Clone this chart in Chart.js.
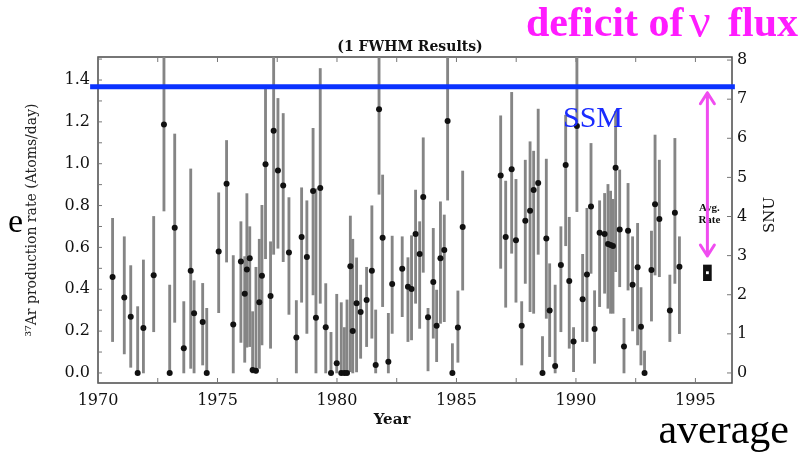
<!DOCTYPE html>
<html>
<head>
<meta charset="utf-8">
<script src="https://cdn.jsdelivr.net/npm/chart.js@4/dist/chart.umd.min.js"></script>
<style>
  html, body { margin: 0; padding: 0; background: #fff; }
  #wrap { width: 800px; height: 457px; }
</style>
</head>
<body>
<div id="wrap"><canvas id="chlorine" width="800" height="457"></canvas></div>
<script>
// run dates (year) and 37Ar production rates (atoms/day) with their 1 FWHM ranges
let years = [
    1970.61, 1971.10, 1971.37, 1971.66, 1971.90, 1972.33, 1972.76, 1973.00, 1973.21, 1973.59,
    1973.88, 1974.02, 1974.38, 1974.55, 1975.05, 1975.38, 1975.66, 1975.98, 1976.14, 1976.23,
    1976.35, 1976.47, 1976.61, 1976.75, 1976.86, 1977.01, 1977.22, 1977.35, 1977.53, 1977.75,
    1977.99, 1978.30, 1978.52, 1978.74, 1979.00, 1979.12, 1979.30, 1979.53, 1979.75, 1979.99,
    1980.18, 1980.31, 1980.42, 1980.56, 1980.66, 1980.82, 1980.99, 1981.24, 1981.46, 1981.62,
    1981.76, 1981.91, 1982.15, 1982.31, 1982.73, 1982.97, 1983.12, 1983.29, 1983.46, 1983.61,
    1983.81, 1984.03, 1984.17, 1984.33, 1984.49, 1984.63, 1984.83, 1985.06, 1985.26, 1986.85,
    1987.06, 1987.31, 1987.49, 1987.73, 1987.88, 1988.08, 1988.23, 1988.42, 1988.60, 1988.76,
    1988.90, 1989.13, 1989.37, 1989.57, 1989.72, 1989.90, 1990.04, 1990.28, 1990.46, 1990.63,
    1990.78, 1990.99, 1991.20, 1991.34, 1991.45, 1991.55, 1991.66, 1991.83, 1992.01, 1992.18,
    1992.37, 1992.58, 1992.72, 1992.87, 1993.16, 1993.31, 1993.49, 1993.93, 1994.14, 1994.33
];
let rates = [
    0.459, 0.361, 0.269, 0.000, 0.215, 0.467, 1.188, 0.000, 0.694, 0.118,
    0.489, 0.285, 0.244, 0.000, 0.580, 0.904, 0.231, 0.533, 0.379, 0.495,
    0.548, 0.014, 0.010, 0.338, 0.465, 0.998, 0.368, 1.158, 0.967, 0.896,
    0.576, 0.169, 0.650, 0.554, 0.869, 0.264, 0.884, 0.218, 0.000, 0.046,
    0.000, 0.000, 0.000, 0.510, 0.201, 0.333, 0.291, 0.349, 0.489, 0.038,
    1.260, 0.646, 0.054, 0.425, 0.498, 0.412, 0.401, 0.664, 0.568, 0.841,
    0.266, 0.435, 0.226, 0.548, 0.588, 1.204, 0.000, 0.217, 0.697, 0.944,
    0.650, 0.973, 0.634, 0.226, 0.728, 0.775, 0.874, 0.908, 0.000, 0.642,
    0.299, 0.033, 0.516, 0.994, 0.439, 0.150, 1.180, 0.352, 0.470, 0.795,
    0.210, 0.670, 0.664, 0.616, 0.611, 0.607, 0.981, 0.686, 0.126, 0.680,
    0.422, 0.505, 0.221, 0.000, 0.492, 0.806, 0.736, 0.298, 0.766, 0.508
];
let errLow = [
    0.150, 0.091, 0.027, 0.000, 0.000, 0.197, 0.774, 0.000, 0.242, 0.000,
    0.022, 0.000, 0.038, 0.000, 0.288, 0.530, 0.000, 0.146, 0.051, 0.123,
    0.126, 0.000, 0.000, 0.022, 0.134, 0.546, 0.118, 0.567, 0.596, 0.532,
    0.280, 0.000, 0.338, 0.189, 0.373, 0.000, 0.333, 0.000, 0.000, 0.000,
    0.000, 0.000, 0.000, 0.006, 0.000, 0.005, 0.070, 0.126, 0.166, 0.000,
    0.854, 0.317, 0.000, 0.189, 0.269, 0.150, 0.158, 0.333, 0.213, 0.481,
    0.010, 0.166, 0.054, 0.237, 0.245, 0.826, 0.000, 0.051, 0.396, 0.500,
    0.314, 0.572, 0.338, 0.038, 0.428, 0.293, 0.285, 0.567, 0.000, 0.261,
    0.078, 0.000, 0.197, 0.608, 0.118, 0.006, 0.771, 0.150, 0.150, 0.476,
    0.046, 0.317, 0.381, 0.309, 0.285, 0.285, 0.484, 0.412, 0.000, 0.396,
    0.201, 0.134, 0.038, 0.000, 0.248, 0.468, 0.460, 0.150, 0.428, 0.188
];
let errHigh = [
    0.739, 0.651, 0.513, 0.317, 0.540, 0.748, 1.600, 0.420, 1.142, 0.341,
    0.975, 0.441, 0.428, 0.309, 0.861, 1.111, 0.561, 0.723, 0.556, 0.857,
    0.699, 0.293, 0.505, 0.639, 0.801, 1.360, 0.627, 1.600, 1.312, 1.240,
    0.838, 0.346, 0.885, 0.823, 1.169, 0.880, 1.455, 0.427, 0.194, 0.376,
    0.336, 0.217, 0.349, 0.750, 0.639, 0.550, 0.420, 0.505, 0.799, 0.301,
    1.600, 0.946, 0.285, 0.654, 0.651, 0.551, 0.656, 0.874, 0.723, 1.124,
    0.309, 0.691, 0.396, 0.818, 0.755, 1.600, 0.140, 0.392, 0.965, 1.229,
    0.917, 1.341, 0.925, 0.341, 1.017, 1.105, 1.060, 1.261, 0.174, 1.022,
    0.522, 0.420, 0.699, 1.232, 0.744, 0.217, 1.600, 0.567, 0.787, 1.097,
    0.393, 0.823, 0.858, 0.901, 0.869, 0.830, 1.250, 0.970, 0.261, 0.906,
    0.651, 0.715, 0.408, 0.105, 0.678, 1.137, 1.017, 0.468, 1.121, 0.651
];

// standard solar model prediction and the average measured rate
let ssmRate = 1.368;
let ssmSpan = [1969.67, 1996.65];
let avgYear = 1995.5;
let avgRate = 0.479;
let avgLow = 0.441;
let avgHigh = 0.516;

// axis ticks
let yearTicks = [1970, 1975, 1980, 1985, 1990, 1995];
let rateTicks = [0.0, 0.2, 0.4, 0.6, 0.8, 1.0, 1.2, 1.4];
let snuTicks = [0, 1, 2, 3, 4, 5, 6, 7, 8];
let snuPerRate = 5.35;
let rateMin = -0.048, rateMax = 1.51;

const serif = 'DejaVu Serif';
const times = 'Liberation Serif';
const magenta = '#f04cf0';

const frameAndTicks = {
    id: 'frameAndTicks',
    beforeDatasetsDraw(chart) {
        const {ctx, chartArea: a, scales} = chart;
        ctx.save();
        ctx.strokeStyle = '#4a4a4a';
        ctx.lineWidth = 1.5;
        ctx.strokeRect(a.left, a.top, a.right - a.left, a.bottom - a.top);
        ctx.lineWidth = 1;
        ctx.strokeStyle = '#777';
        ctx.beginPath();
        for (let v = 0; v <= 1.5001; v += 0.1) {
            const py = scales.y.getPixelForValue(v);
            ctx.moveTo(a.left, py); ctx.lineTo(a.left + 4, py);
        }
        snuTicks.forEach(v => {
            const py = scales.y2.getPixelForValue(v);
            ctx.moveTo(a.right, py); ctx.lineTo(a.right - 5, py);
        });
        for (let v = 1970; v <= 1996; v += 2.5) {
            const px = scales.x.getPixelForValue(v);
            ctx.moveTo(px, a.bottom); ctx.lineTo(px, a.bottom - 5);
            ctx.moveTo(px, a.top); ctx.lineTo(px, a.top + 5);
        }
        ctx.stroke();
        ctx.restore();
    }
};

const labels = {
    id: 'labels',
    afterDraw(chart) {
        const {ctx, scales: {x, y}} = chart;
        ctx.save();
        ctx.fillStyle = '#111';
        ctx.textAlign = 'center';
        ctx.textBaseline = 'alphabetic';
        ctx.font = 'bold 14px "' + serif + '"';
        ctx.fillText('(1 FWHM Results)', 410, 51);
        ctx.font = 'bold 15px "' + serif + '"';
        ctx.fillText('Year', 392, 424);

        ctx.save();
        ctx.translate(770, 215);
        ctx.rotate(-Math.PI / 2);
        ctx.font = '15px "' + serif + '"';
        ctx.textBaseline = 'middle';
        ctx.fillText('SNU', 0, 0);
        ctx.restore();

        // average rate caption
        const ax = x.getPixelForValue(avgYear);
        ctx.font = 'bold 11px "' + times + '"';
        ctx.fillText('Avg.', ax + 2, 211);
        ctx.fillText('Rate', ax + 2, 223);

        // deficit arrow between the model line and the average
        const top = y.getPixelForValue(ssmRate) + 6;
        const bot = y.getPixelForValue(avgHigh) - 9;
        ctx.strokeStyle = magenta;
        ctx.lineWidth = 3;
        ctx.lineCap = 'round';
        ctx.lineJoin = 'round';
        ctx.beginPath();
        ctx.moveTo(ax, top); ctx.lineTo(ax, bot);
        ctx.moveTo(ax - 7, top + 11); ctx.lineTo(ax, top); ctx.lineTo(ax + 7, top + 11);
        ctx.moveTo(ax - 7, bot - 11); ctx.lineTo(ax, bot); ctx.lineTo(ax + 7, bot - 11);
        ctx.stroke();

        ctx.textAlign = 'left';
        ctx.fillStyle = '#ff1cff';
        ctx.font = 'bold 42px "' + times + '"';
        ctx.fillText('deficit of', 526, 36);
        ctx.font = '48px "' + times + '"';
        ctx.fillText('ν', 689, 37);
        ctx.textAlign = 'right';
        ctx.font = 'bold 42px "' + times + '"';
        ctx.fillText('flux', 798, 36);

        ctx.textAlign = 'left';
        ctx.fillStyle = '#1a2cff';
        ctx.font = '30px "' + times + '"';
        ctx.fillText('SSM', 563, 127);

        ctx.fillStyle = '#000';
        ctx.font = '34px "' + times + '"';
        ctx.fillText('e', 8, 232);
        ctx.textAlign = 'right';
        ctx.font = '42px "' + times + '"';
        ctx.fillText('average', 789, 443);
        ctx.restore();
    }
};

let errorBars = years.map((yr, i) => ({x: yr, y: [errLow[i], errHigh[i]]}));
let points = years.map((yr, i) => ({x: yr, y: rates[i]}));

let chlorineCanvas = document.getElementById('chlorine');

let chlorineData = {
    datasets: [{
        type: 'line',
        data: [{x: ssmSpan[0], y: ssmRate}, {x: ssmSpan[1], y: ssmRate}],
        borderColor: '#0a32ff',
        borderWidth: 5,
        pointRadius: 0,
        clip: false,
        order: 0
    }, {
        type: 'scatter',
        data: [{x: avgYear, y: avgRate}],
        pointStyle: 'rect',
        pointRadius: 2,
        backgroundColor: '#fff',
        borderWidth: 0,
        order: 1
    }, {
        type: 'bar',
        data: [{x: avgYear, y: [avgLow, avgHigh]}],
        backgroundColor: '#111',
        barThickness: 8,
        grouped: false,
        order: 2
    }, {
        type: 'scatter',
        data: points,
        pointStyle: 'circle',
        pointRadius: 3,
        backgroundColor: '#111',
        borderWidth: 0,
        order: 3
    }, {
        type: 'bar',
        data: errorBars,
        backgroundColor: '#858585',
        barThickness: 2.2,
        grouped: false,
        order: 4
    }]
};

let chlorineOptions = {
    responsive: false,
    animation: false,
    events: [],
    layout: {
        padding: {top: 57, left: 0, right: 0, bottom: 0}
    },
    plugins: {
        legend: {display: false},
        tooltip: {enabled: false}
    },
    scales: {
        x: {
            type: 'linear',
            position: 'bottom',
            min: 1970,
            max: 1996.53,
            offset: false,
            grid: {display: false, drawTicks: false},
            border: {display: false},
            afterBuildTicks: s => { s.ticks = yearTicks.map(v => ({value: v})); },
            afterFit: s => { s.height = 74; },
            ticks: {
                padding: 8,
                color: '#111',
                font: {family: serif, size: 16},
                callback: v => String(v)
            }
        },
        y: {
            type: 'linear',
            position: 'left',
            min: rateMin,
            max: rateMax,
            grid: {display: false, drawTicks: false},
            border: {display: false},
            afterBuildTicks: s => { s.ticks = rateTicks.map(v => ({value: v})); },
            afterFit: s => { s.width = 98; },
            ticks: {
                padding: 8,
                color: '#111',
                font: {family: serif, size: 16},
                callback: v => v.toFixed(1)
            },
            title: {
                display: true,
                text: '³⁷Ar production rate (Atoms/day)',
                color: '#222',
                font: {family: serif, size: 14},
                padding: {top: 24, bottom: 0}
            }
        },
        y2: {
            type: 'linear',
            position: 'right',
            min: rateMin * snuPerRate,
            max: rateMax * snuPerRate,
            grid: {display: false, drawTicks: false},
            border: {display: false},
            afterBuildTicks: s => { s.ticks = snuTicks.map(v => ({value: v})); },
            afterFit: s => { s.width = 68; },
            ticks: {
                padding: 5,
                color: '#111',
                font: {family: serif, size: 16},
                callback: v => String(v)
            }
        }
    }
};

let chlorineChart = new Chart(chlorineCanvas, {
    type: 'scatter',
    data: chlorineData,
    options: chlorineOptions,
    plugins: [frameAndTicks, labels]
});
</script>
</body>
</html>
